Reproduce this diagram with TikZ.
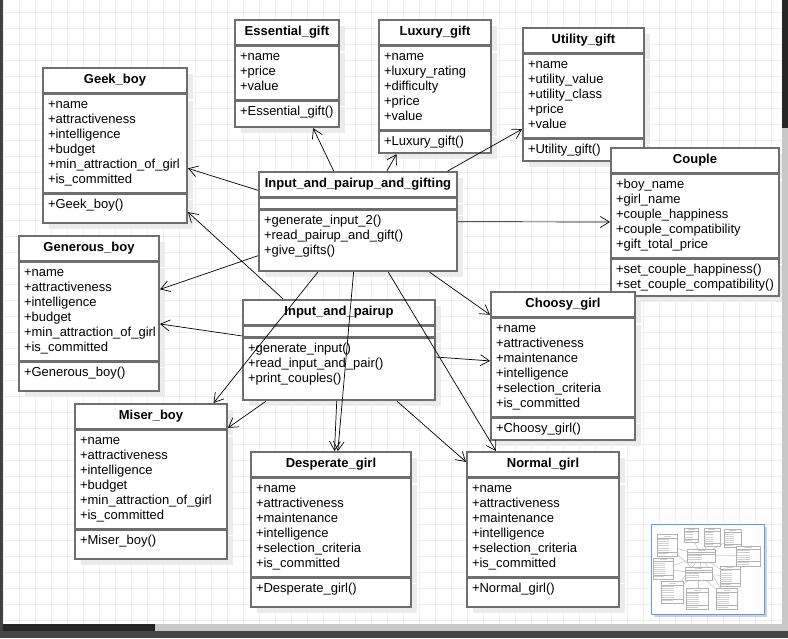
\documentclass[tikz,border=0pt]{standalone}
\usepackage{fontspec}
\setmainfont{Liberation Sans}
\usepackage{tikz}
\usetikzlibrary{positioning, fit, shadows, arrows.meta}
\definecolor{boxline}{HTML}{6E6E6E}
\definecolor{viewblue}{HTML}{5A9CF5}
\tikzstyle{classtitle} = [rectangle, draw=boxline, line width=1.6pt, fill=white,
minimum height=25pt,
font=\fontsize{13}{15}\selectfont\bfseries,
drop shadow={shadow xshift=6pt, shadow yshift=-6pt, fill=black!8, opacity=1}]
\tikzstyle{classbody} = [rectangle, draw=boxline, line width=1.6pt, fill=white,
inner xsep=5pt, inner ysep=4pt,
text height=10pt, align=left,
font=\fontsize{13}{15}\selectfont,
drop shadow={shadow xshift=6pt, shadow yshift=-6pt, fill=black!8, opacity=1}]
\tikzstyle{noattr} = [classbody, minimum height=10pt, inner ysep=0pt, text height=0pt, text depth=0pt]
\tikzstyle{whole} = [rectangle, inner sep=0pt]
\tikzstyle{assoc} = [line width=0.7pt, -{Straight Barb[length=9pt,width=11pt]}]
\tikzstyle{gridline} = [black!6, line width=1pt]
\tikzstyle{minibox} = [draw=black!30, fill=white, line width=0.4pt]
\tikzstyle{ministroke} = [black!18, line width=0.9pt]
\tikzstyle{minilink} = [black!35, line width=0.3pt]

\begin{document}
\begin{tikzpicture}[x=1pt, y=-1pt]
  \useasboundingbox (0,0) rectangle (788,638);
  \fill [white] (3,0) rectangle (782,624);
  \foreach \gx in {3,19,...,779}
    \draw [gridline] (\gx,0) -- (\gx,624);
  \foreach \gy in {12,28,...,620}
    \draw [gridline] (3,\gy) -- (782,\gy);

  \node (geek-t) [classtitle, minimum width=144pt] at (115,80.5) {Geek\_boy};
  \node (geek-a) [classbody, below=0pt of geek-t, text width=134pt, text depth=80pt] {+name\\+attractiveness\\+intelligence\\+budget\\+min\_attraction\_of\_girl\\+is\_committed};
  \node (geek-m) [classbody, below=0pt of geek-a, text width=134pt, text depth=11pt] {+Geek\_boy()};
  \node (geek) [whole, fit=(geek-t)(geek-m)] {};

  \node (essential-t) [classtitle, minimum width=104pt] at (287,32.5) {Essential\_gift};
  \node (essential-a) [classbody, below=0pt of essential-t, text width=94pt, text depth=35pt] {+name\\+price\\+value};
  \node (essential-m) [classbody, below=0pt of essential-a, text width=94pt, text depth=8pt] {+Essential\_gift()};
  \node (essential) [whole, fit=(essential-t)(essential-m)] {};

  \node (luxury-t) [classtitle, minimum width=112pt] at (435,32.5) {Luxury\_gift};
  \node (luxury-a) [classbody, below=0pt of luxury-t, text width=102pt, text depth=65pt] {+name\\+luxury\_rating\\+difficulty\\+price\\+value};
  \node (luxury-m) [classbody, below=0pt of luxury-a, text width=102pt, text depth=4pt] {+Luxury\_gift()};
  \node (luxury) [whole, fit=(luxury-t)(luxury-m)] {};

  \node (utility-t) [classtitle, minimum width=121pt] at (583.5,40.5) {Utility\_gift};
  \node (utility-a) [classbody, below=0pt of utility-t, text width=111pt, text depth=65pt] {+name\\+utility\_value\\+utility\_class\\+price\\+value};
  \node (utility-m) [classbody, below=0pt of utility-a, text width=111pt, text depth=4pt] {+Utility\_gift()};
  \node (utility) [whole, fit=(utility-t)(utility-m)] {};

  \node (couple-t) [classtitle, minimum width=168pt] at (695,160.5) {Couple};
  \node (couple-a) [classbody, below=0pt of couple-t, text width=158pt, text depth=65pt] {+boy\_name\\+girl\_name\\+couple\_happiness\\+couple\_compatibility\\+gift\_total\_price};
  \node (couple-m) [classbody, below=0pt of couple-a, text width=158pt, text depth=19pt] {+set\_couple\_happiness()\\+set\_couple\_compatibility()};
  \node (couple) [whole, fit=(couple-t)(couple-m)] {};

  \node (ipg-t) [classtitle, minimum width=198pt] at (358,184.5) {Input\_and\_pairup\_and\_gifting};
  \node (ipg-a) [noattr, below=0pt of ipg-t, text width=188pt] {};
  \node (ipg-m) [classbody, below=0pt of ipg-a, text width=188pt, text depth=43pt] {+generate\_input\_2()\\+read\_pairup\_and\_gift()\\+give\_gifts()};
  \node (ipg) [whole, fit=(ipg-t)(ipg-m)] {};

  \node (generous-t) [classtitle, minimum width=140pt] at (89,248.5) {Generous\_boy};
  \node (generous-a) [classbody, below=0pt of generous-t, text width=130pt, text depth=80pt] {+name\\+attractiveness\\+intelligence\\+budget\\+min\_attraction\_of\_girl\\+is\_committed};
  \node (generous-m) [classbody, below=0pt of generous-a, text width=130pt, text depth=11pt] {+Generous\_boy()};
  \node (generous) [whole, fit=(generous-t)(generous-m)] {};

  \node (ip-t) [classtitle, minimum width=192pt] at (339,312.5) {Input\_and\_pairup};
  \node (ip-a) [noattr, below=0pt of ip-t, text width=182pt] {};
  \node (ip-m) [classbody, below=0pt of ip-a, text width=182pt, text depth=44pt] {+generate\_input()\\+read\_input\_and\_pair()\\+print\_couples()};
  \node (ip) [whole, fit=(ip-t)(ip-m)] {};

  \node (choosy-t) [classtitle, minimum width=144pt] at (563,304.5) {Choosy\_girl};
  \node (choosy-a) [classbody, below=0pt of choosy-t, text width=134pt, text depth=80pt] {+name\\+attractiveness\\+maintenance\\+intelligence\\+selection\_criteria\\+is\_committed};
  \node (choosy-m) [classbody, below=0pt of choosy-a, text width=134pt, text depth=4pt] {+Choosy\_girl()};
  \node (choosy) [whole, fit=(choosy-t)(choosy-m)] {};

  \node (miser-t) [classtitle, minimum width=152pt] at (151,416.5) {Miser\_boy};
  \node (miser-a) [classbody, below=0pt of miser-t, text width=142pt, text depth=80pt] {+name\\+attractiveness\\+intelligence\\+budget\\+min\_attraction\_of\_girl\\+is\_committed};
  \node (miser-m) [classbody, below=0pt of miser-a, text width=142pt, text depth=11pt] {+Miser\_boy()};
  \node (miser) [whole, fit=(miser-t)(miser-m)] {};

  \node (desperate-t) [classtitle, minimum width=160pt] at (331,464.5) {Desperate\_girl};
  \node (desperate-a) [classbody, below=0pt of desperate-t, text width=150pt, text depth=80pt] {+name\\+attractiveness\\+maintenance\\+intelligence\\+selection\_criteria\\+is\_committed};
  \node (desperate-m) [classbody, below=0pt of desperate-a, text width=150pt, text depth=11pt] {+Desperate\_girl()};
  \node (desperate) [whole, fit=(desperate-t)(desperate-m)] {};

  \node (normal-t) [classtitle, minimum width=152pt] at (543,464.5) {Normal\_girl};
  \node (normal-a) [classbody, below=0pt of normal-t, text width=142pt, text depth=80pt] {+name\\+attractiveness\\+maintenance\\+intelligence\\+selection\_criteria\\+is\_committed};
  \node (normal-m) [classbody, below=0pt of normal-a, text width=142pt, text depth=11pt] {+Normal\_girl()};
  \node (normal) [whole, fit=(normal-t)(normal-m)] {};

  \draw [assoc] (ipg) -- (geek);
  \draw [assoc] (ipg) -- (essential);
  \draw [assoc] (ipg) -- (luxury);
  \draw [assoc] (ipg) -- (utility);
  \draw [assoc] (ipg) -- (couple);
  \draw [assoc] (ipg) -- (generous);
  \draw [assoc] (ipg) -- (choosy);
  \draw [assoc] (ipg) -- (miser);
  \draw [assoc] (ipg) -- (desperate);
  \draw [assoc] (ipg) -- (normal);
  \draw [assoc] (ip) -- (geek);
  \draw [assoc] (ip) -- (generous);
  \draw [assoc] (ip) -- (miser);
  \draw [assoc] (ip) -- (desperate);
  \draw [assoc] (ip) -- (choosy);
  \draw [assoc] (ip) -- (normal);

  % overview panel
  \filldraw [fill=white, draw=viewblue, line width=1pt,
    drop shadow={shadow xshift=3pt, shadow yshift=-3pt, fill=black!18, opacity=1}] (651,524) rectangle (764,614);
  \begin{scope}[shift={(651,525)}, scale=0.14]
    \foreach \tx/\ty in {115/144, 287/72, 435/85, 583.5/93, 695/220.5, 89/312, 563/364.5, 331/528, 151/480, 543/528}
      \draw [minilink] (358,220) -- (\tx,\ty);
    \foreach \tx/\ty in {115/144, 89/312, 151/480, 331/528, 563/364.5, 543/528}
      \draw [minilink] (339,348) -- (\tx,\ty);
    \foreach \l/\t/\r/\b/\h/\s/\na/\nm in {43/68/187/220/93/191/6/1, 235/20/339/124/45/98/3/1,
        379/20/491/150/45/128/5/1, 523/28/644/158/53/136/5/1, 611/148/779/293/173/256/5/2,
        259/172/457/268/197/207/0/3, 19/236/159/388/261/359/6/1, 243/300/435/396/325/335/0/3,
        491/292/635/437/317/415/6/1, 75/404/227/556/429/527/6/1, 251/452/411/604/477/575/6/1,
        467/452/619/604/477/575/6/1}{
      \filldraw [minibox] (\l,\t) rectangle (\r,\b);
      \draw [minibox] (\l,\h) -- (\r,\h) (\l,\s) -- (\r,\s);
      \draw [ministroke] ({(\l+\r)/2-25},{(\t+\h)/2}) -- ++(50,0);
      \foreach \k in {1,...,\nm}
        \draw [ministroke] (\l+5,\s+\k*15-4) -- ++({0.5*(\r-\l)},0);
      \ifnum\na>0
        \foreach \k in {1,...,\na}
          \draw [ministroke] (\l+5,\h+\k*15-4) -- ++({0.55*(\r-\l)},0);
      \fi
    }
  \end{scope}

  % window frame
  \fill [black!75] (0,0) rectangle (3,638);
  \fill [black!22] (155,624) rectangle (788,631);
  \fill [black!85] (3,624) rectangle (155,631);
  \fill [black!72] (0,631) rectangle (788,638);
  \fill [black!22] (782,0) rectangle (788,624);
  \fill [black!85] (782,0) rectangle (788,128);
\end{tikzpicture}
\end{document}
